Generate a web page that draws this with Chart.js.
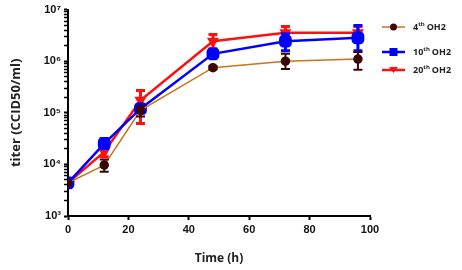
<!DOCTYPE html>
<html>
<head>
<meta charset="utf-8">
<script src="https://cdn.jsdelivr.net/npm/chart.js@4/dist/chart.umd.min.js"></script>
<style>
  body { margin: 0; background: #fff; }
  #wrap { width: 462px; height: 270px; }
</style>
</head>
<body>
<div id="wrap"><canvas id="titer"></canvas></div>
<script>
// time points (h)
const hours = [0, 12, 24, 48, 72, 96];

// 4th OH2
const p4 = [4400, 9700, 112000, 750000, 1000000, 1100000];
const p4Low = [4400, 7200, 85000, 700000, 710000, 680000];
const p4High = [4400, 12500, 135000, 800000, 1390000, 1500000];

// 10th OH2
const p10 = [4400, 25300, 120000, 1390000, 2440000, 2840000];
const p10Low = [4400, 20400, 100000, 1250000, 1600000, 1600000];
const p10High = [4400, 31600, 145000, 1550000, 3400000, 4900000];

// 20th OH2
const p20 = [4400, 17500, 175000, 2440000, 3550000, 3550000];
const p20Low = [4400, 14000, 62000, 1740000, 2700000, 2700000];
const p20High = [4400, 21000, 272000, 3300000, 4700000, 4700000];

const xTicks = [0, 20, 40, 60, 80, 100];
const sup = {3: '³', 4: '⁴', 5: '⁵', 6: '⁶', 7: '⁷'};

function pts(v) { return hours.map((h, i) => ({x: h, y: v[i]})); }

const errors = [
  {low: p4Low, high: p4High, color: '#3b0606', width: 2},
  {low: p10Low, high: p10High, color: '#0000ff', width: 3},
  {low: p20Low, high: p20High, color: '#ff1010', width: 3}
];

const errorBars = {
  id: 'errorBars',
  afterDatasetDraw(chart, args) {
    const e = errors[args.index];
    const ctx = chart.ctx;
    const xs = chart.scales.x, ys = chart.scales.y;
    ctx.save();
    ctx.strokeStyle = e.color;
    ctx.lineWidth = e.width;
    hours.forEach((h, i) => {
      const x = xs.getPixelForValue(h);
      const y1 = ys.getPixelForValue(e.low[i]);
      const y2 = ys.getPixelForValue(e.high[i]);
      if (Math.abs(y1 - y2) < 1) return;
      ctx.beginPath();
      ctx.moveTo(x, y1); ctx.lineTo(x, y2);
      ctx.moveTo(x - 4.5, y1); ctx.lineTo(x + 4.5, y1);
      ctx.moveTo(x - 4.5, y2); ctx.lineTo(x + 4.5, y2);
      ctx.stroke();
    });
    ctx.restore();
  }
};

const legendRows = [
  {n: '4', line: '#c8741e', mark: '#3b0606', shape: 'circle', y: 27},
  {n: '10', line: '#0000ff', mark: '#0000ff', shape: 'square', y: 52},
  {n: '20', line: '#ff1010', mark: '#ff1010', shape: 'triangle', y: 70}
];

const sideLegend = {
  id: 'sideLegend',
  afterDraw(chart) {
    const ctx = chart.ctx;
    ctx.save();
    legendRows.forEach(r => {
      ctx.strokeStyle = r.line;
      ctx.lineWidth = r.shape === 'circle' ? 1.5 : 2.5;
      ctx.beginPath();
      ctx.moveTo(382, r.y); ctx.lineTo(405, r.y);
      ctx.stroke();
      ctx.fillStyle = r.mark;
      ctx.beginPath();
      if (r.shape === 'circle') ctx.arc(393.5, r.y, 3.5, 0, Math.PI * 2);
      else if (r.shape === 'square') ctx.rect(389.5, r.y - 4, 8, 8);
      else { ctx.moveTo(389, r.y - 3); ctx.lineTo(398, r.y - 3); ctx.lineTo(393.5, r.y + 3); ctx.closePath(); }
      ctx.fill();
      ctx.fillStyle = '#222';
      ctx.textBaseline = 'middle';
      ctx.font = 'bold 9px "Open Sans"';
      let x = 413;
      ctx.fillText(r.n, x, r.y);
      x += ctx.measureText(r.n).width;
      ctx.font = 'bold 6px "Open Sans"';
      ctx.fillText('th', x, r.y - 3);
      x += ctx.measureText('th').width + 2;
      ctx.font = 'bold 9px "Open Sans"';
      ctx.fillText('OH2', x, r.y);
    });
    ctx.restore();
  }
};

new Chart(document.getElementById('titer'), {
  type: 'line',
  data: {
    datasets: [
      {label: '4th OH2', data: pts(p4), borderColor: '#c8741e', borderWidth: 1.5,
       pointStyle: 'circle', pointRadius: 4, pointBackgroundColor: '#3b0606', pointBorderColor: '#3b0606'},
      {label: '10th OH2', data: pts(p10), borderColor: '#0000ff', borderWidth: 2.5,
       pointStyle: 'rectRounded', pointRadius: 6, pointBackgroundColor: '#0000ff', pointBorderColor: '#0000ff'},
      {label: '20th OH2', data: pts(p20), borderColor: '#ff1010', borderWidth: 2.5,
       pointStyle: 'triangle', rotation: 180, pointRadius: 4.5, pointBackgroundColor: '#ff1010', pointBorderColor: '#ff1010'}
    ]
  },
  options: {
    responsive: true,
    maintainAspectRatio: false,
    animation: false,
    layout: {padding: {left: 4, top: 9, right: 92, bottom: 0}},
    plugins: {legend: {display: false}, tooltip: {enabled: false}},
    scales: {
      x: {
        type: 'linear', min: 0, max: 100,
        afterBuildTicks: s => { s.ticks = xTicks.map(v => ({value: v})); },
        afterFit: s => { s.height = 54; },
        border: {color: '#000', width: 2},
        grid: {drawOnChartArea: false, color: '#000', tickLength: 4, tickWidth: 2},
        ticks: {color: '#111', font: {family: 'Liberation Sans', weight: 'bold', size: 11}, padding: 3},
        title: {display: true, text: 'Time (h)', color: '#222', padding: {top: 14},
                font: {family: 'Open Sans', weight: 'bold', size: 12}}
      },
      y: {
        type: 'logarithmic', min: 1000, max: 10000000,
        afterBuildTicks: s => {
          const t = [];
          for (let p = 3; p < 7; p++) for (let m = 1; m < 10; m++) t.push({value: m * Math.pow(10, p)});
          t.push({value: 1e7});
          s.ticks = t;
        },
        afterFit: s => { s.width = 64; },
        border: {color: '#000', width: 2},
        grid: {drawOnChartArea: false, color: '#000', tickLength: 4,
               tickWidth: c => (c.tick && Number.isInteger(Math.round(Math.log10(c.tick.value) * 1000) / 1000)) ? 2 : 1.5},
        ticks: {
          autoSkip: false, color: '#111', padding: 3,
          font: {family: 'Liberation Sans', weight: 'bold', size: 11},
          callback: v => {
            const l = Math.log10(v);
            return Math.abs(l - Math.round(l)) < 1e-9 ? '10' + sup[Math.round(l)] : '';
          }
        },
        title: {display: true, text: 'titer (CCID50/ml)', color: '#222', padding: {bottom: 6},
                font: {family: 'Open Sans', weight: 'bold', size: 13}}
      }
    }
  },
  plugins: [errorBars, sideLegend]
});
</script>
</body>
</html>
